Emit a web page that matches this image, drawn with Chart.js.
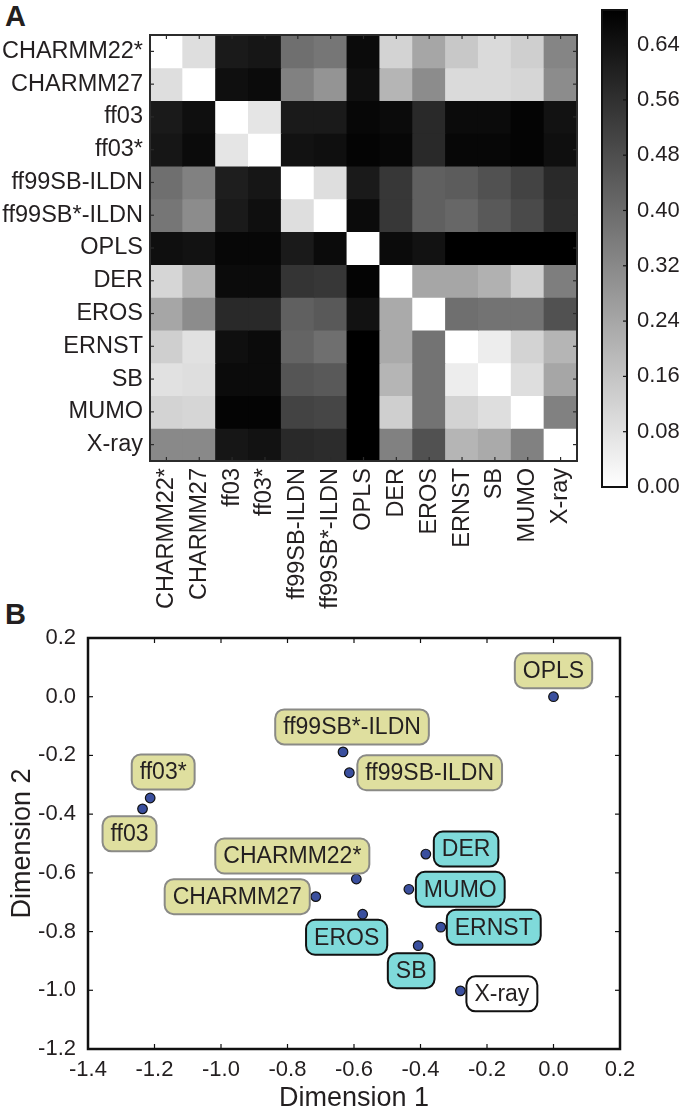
<!DOCTYPE html>
<html>
<head>
<meta charset="utf-8">
<script src="https://cdn.jsdelivr.net/npm/chart.js@4.4.1/dist/chart.umd.min.js"></script>
<style>
  body { margin: 0; background: #fff; width: 684px; height: 1113px; position: relative; overflow: hidden;
         font-family: "Liberation Sans", Arial, sans-serif; }
  canvas { position: absolute; }
  .panel { position: absolute; font-weight: bold; font-size: 29px; color: #231f20; line-height: 1; }
</style>
</head>
<body>
<div class="panel" style="left:5px;top:2px">A</div>
<div class="panel" style="left:5px;top:600px">B</div>
<canvas id="heat" width="595" height="620" style="left:0;top:0"></canvas>
<canvas id="cbar" width="89" height="500" style="left:595px;top:0"></canvas>
<canvas id="mds" width="684" height="523" style="left:0;top:590px"></canvas>
<script>
// --- panel A: pairwise distances between force fields / ensembles ---
var names = ["CHARMM22*", "CHARMM27", "ff03", "ff03*", "ff99SB-ILDN", "ff99SB*-ILDN",
             "OPLS", "DER", "EROS", "ERNST", "SB", "MUMO", "X-ray"];
var dist = [
  [0.00, 0.09, 0.62, 0.63, 0.39, 0.37, 0.66, 0.12, 0.24, 0.15, 0.10, 0.13, 0.33],
  [0.09, 0.00, 0.65, 0.66, 0.34, 0.29, 0.65, 0.20, 0.31, 0.10, 0.10, 0.11, 0.31],
  [0.62, 0.65, 0.00, 0.07, 0.62, 0.62, 0.67, 0.66, 0.58, 0.66, 0.66, 0.68, 0.64],
  [0.63, 0.66, 0.07, 0.00, 0.64, 0.65, 0.68, 0.67, 0.58, 0.67, 0.67, 0.68, 0.65],
  [0.39, 0.34, 0.61, 0.63, 0.00, 0.09, 0.62, 0.54, 0.43, 0.44, 0.47, 0.51, 0.58],
  [0.37, 0.31, 0.62, 0.65, 0.09, 0.00, 0.66, 0.54, 0.43, 0.41, 0.45, 0.49, 0.57],
  [0.65, 0.64, 0.67, 0.67, 0.62, 0.66, 0.00, 0.66, 0.64, 0.69, 0.69, 0.69, 0.69],
  [0.11, 0.20, 0.66, 0.66, 0.55, 0.54, 0.68, 0.00, 0.24, 0.24, 0.21, 0.13, 0.35],
  [0.24, 0.31, 0.58, 0.58, 0.43, 0.45, 0.64, 0.23, 0.00, 0.39, 0.38, 0.38, 0.47],
  [0.13, 0.08, 0.65, 0.66, 0.42, 0.39, 0.69, 0.23, 0.38, 0.00, 0.05, 0.12, 0.20],
  [0.08, 0.09, 0.66, 0.66, 0.46, 0.45, 0.69, 0.20, 0.38, 0.05, 0.00, 0.09, 0.24],
  [0.12, 0.11, 0.68, 0.68, 0.51, 0.50, 0.69, 0.13, 0.38, 0.12, 0.09, 0.00, 0.34],
  [0.32, 0.32, 0.63, 0.64, 0.58, 0.57, 0.69, 0.34, 0.47, 0.20, 0.23, 0.34, 0.00]
];
var vmax = 0.69;
var cbarTicks = [0.00, 0.08, 0.16, 0.24, 0.32, 0.40, 0.48, 0.56, 0.64];

// --- panel B: MDS embedding ---
var mdsNames = ["OPLS", "ff99SB*-ILDN", "ff99SB-ILDN", "ff03*", "ff03", "CHARMM22*", "CHARMM27",
                "DER", "MUMO", "EROS", "ERNST", "SB", "X-ray"];
var mdsX = [0.0, -0.633, -0.614, -1.213, -1.236, -0.593, -0.715, -0.384, -0.435, -0.574, -0.339, -0.407, -0.280];
var mdsY = [0.0, -0.188, -0.259, -0.345, -0.382, -0.621, -0.681, -0.536, -0.656, -0.741, -0.785, -0.848, -1.002];
var mdsGroup = ["ff", "ff", "ff", "ff", "ff", "ff", "ff", "exp", "exp", "exp", "exp", "exp", "xray"];
var xTicks = [-1.4, -1.2, -1.0, -0.8, -0.6, -0.4, -0.2, 0.0, 0.2];
var yTicks = [0.2, 0.0, -0.2, -0.4, -0.6, -0.8, -1.0, -1.2];

// label placement (pixels from the point), align = which box edge dx refers to
var labelPos = [
  {dx: 0, dy: -26, align: "center"}, {dx: 9, dy: -25, align: "center"}, {dx: 8, dy: 0, align: "left"},
  {dx: 13, dy: -26, align: "center"}, {dx: -13, dy: 25, align: "center"}, {dx: -64, dy: -23, align: "center"},
  {dx: -6, dy: 0, align: "right"}, {dx: 8, dy: -5, align: "left"}, {dx: 7, dy: 0, align: "left"},
  {dx: -16, dy: 23, align: "center"}, {dx: 6, dy: 0, align: "left"}, {dx: -7, dy: 25, align: "center"},
  {dx: 6, dy: 3, align: "left"}
];
var boxStyle = {
  ff:   {fill: "#dfdf9f", stroke: "#8a8a86"},
  exp:  {fill: "#7fdada", stroke: "#111111"},
  xray: {fill: "#ffffff", stroke: "#111111"}
};

Chart.defaults.font.family = '"Liberation Sans", Arial, sans-serif';
Chart.defaults.font.size = 22;
Chart.defaults.color = "#231f20";
Chart.defaults.animation = false;

function grayOf(v) {
  var g = Math.round(255 * (1 - Math.min(v, vmax) / vmax));
  return "rgb(" + g + "," + g + "," + g + ")";
}

// box round the plot area plus short inward ticks
var framePlugin = {
  id: "frame",
  afterDraw: function(chart, args, o) {
    if (!o || !o.color) return;
    var ctx = chart.ctx, a = chart.chartArea, L = o.tickLen;
    ctx.save();
    ctx.strokeStyle = o.color;
    ctx.lineWidth = o.tickWidth;
    (o.xSides || []).forEach(function(side) {
      var sx = chart.scales.x;
      sx.ticks.forEach(function(t, i) {
        var p = sx.getPixelForTick(i);
        ctx.beginPath();
        if (side === "top") { ctx.moveTo(p, a.top); ctx.lineTo(p, a.top + L); }
        else { ctx.moveTo(p, a.bottom); ctx.lineTo(p, a.bottom - L); }
        ctx.stroke();
      });
    });
    (o.ySides || []).forEach(function(side) {
      var sy = chart.scales.y;
      sy.ticks.forEach(function(t, i) {
        var p = sy.getPixelForTick(i);
        ctx.beginPath();
        if (side === "left") { ctx.moveTo(a.left, p); ctx.lineTo(a.left + L, p); }
        else { ctx.moveTo(a.right, p); ctx.lineTo(a.right - L, p); }
        ctx.stroke();
      });
    });
    ctx.lineWidth = o.width;
    ctx.strokeRect(a.left, a.top, a.right - a.left, a.bottom - a.top);
    ctx.restore();
  }
};

function noPad(s) { s.paddingTop = 0; s.paddingBottom = 0; s.paddingLeft = 0; s.paddingRight = 0; }

// heatmap: one stacked unit bar per cell
var heatSets = names.map(function(rowName, r) {
  return {
    label: rowName,
    data: names.map(function() { return 1; }),
    backgroundColor: dist[r].map(grayOf),
    borderWidth: 0,
    inflateAmount: 0.5,
    barPercentage: 1,
    categoryPercentage: 1,
    stack: "m"
  };
});

new Chart(document.getElementById("heat"), {
  type: "bar",
  data: { labels: names, datasets: heatSets },
  plugins: [framePlugin],
  options: {
    responsive: false,
    layout: { padding: { top: 35, right: 18, left: 0, bottom: 0 } },
    plugins: {
      legend: { display: false }, tooltip: { enabled: false },
      frame: { color: "#2b2b2b", width: 2, tickLen: 4, tickWidth: 1.2, xSides: ["top", "bottom"], ySides: ["left", "right"] }
    },
    scales: {
      x: {
        stacked: true,
        grid: { display: false, drawTicks: false },
        border: { display: false },
        ticks: { autoSkip: false, minRotation: 90, maxRotation: 90, padding: 7, font: { size: 23.5 } },
        afterFit: function(s) { s.height = 159; noPad(s); }
      },
      y: {
        stacked: true, min: 0, max: 13, reverse: true,
        grid: { display: false, drawTicks: false },
        border: { display: false },
        afterBuildTicks: function(s) { s.ticks = names.map(function(n, i) { return { value: i + 0.5 }; }); },
        ticks: { padding: 7, font: { size: 23.5 }, callback: function(v, i) { return names[i]; } },
        afterFit: function(s) { s.width = 150; noPad(s); }
      }
    }
  }
});

// colour bar
new Chart(document.getElementById("cbar"), {
  type: "bar",
  data: {
    labels: [""],
    datasets: [{
      data: [vmax],
      barPercentage: 1, categoryPercentage: 1, borderWidth: 0,
      backgroundColor: function(c) {
        var a = c.chart.chartArea;
        if (!a) return "#888";
        var g = c.chart.ctx.createLinearGradient(0, a.bottom, 0, a.top);
        g.addColorStop(0, "#ffffff");
        g.addColorStop(1, "#000000");
        return g;
      }
    }]
  },
  plugins: [framePlugin],
  options: {
    responsive: false,
    layout: { padding: { top: 10, left: 7, right: 0, bottom: 13 } },
    plugins: {
      legend: { display: false }, tooltip: { enabled: false },
      frame: { color: "#111", width: 2, tickLen: 4, tickWidth: 1.2, xSides: [], ySides: ["right"] }
    },
    scales: {
      x: { display: false },
      y: {
        position: "right", min: 0, max: vmax,
        grid: { display: false, drawTicks: false },
        border: { display: false },
        afterBuildTicks: function(s) { s.ticks = cbarTicks.map(function(v) { return { value: v }; }); },
        ticks: { padding: 10, callback: function(v) { return Number(v).toFixed(2); } },
        afterFit: function(s) { s.width = 57; noPad(s); }
      }
    }
  }
});

// MDS labels
var labelPlugin = {
  id: "mdsLabels",
  afterDatasetsDraw: function(chart) {
    var ctx = chart.ctx, pts = chart.getDatasetMeta(0).data;
    ctx.save();
    ctx.font = '23px "Liberation Sans", Arial, sans-serif';
    ctx.textBaseline = "middle";
    ctx.textAlign = "center";
    pts.forEach(function(el, i) {
      var pos = labelPos[i], st = boxStyle[mdsGroup[i]];
      var w = ctx.measureText(mdsNames[i]).width + 16, h = 35;
      var cx = el.x + pos.dx, cy = el.y + pos.dy;
      if (pos.align === "left") cx = el.x + pos.dx + w / 2;
      if (pos.align === "right") cx = el.x + pos.dx - w / 2;
      ctx.beginPath();
      ctx.roundRect(cx - w / 2, cy - h / 2, w, h, 9);
      ctx.fillStyle = st.fill;
      ctx.fill();
      ctx.lineWidth = 2;
      ctx.strokeStyle = st.stroke;
      ctx.stroke();
      ctx.fillStyle = "#231f20";
      ctx.fillText(mdsNames[i], cx, cy + 1);
    });
    ctx.restore();
  }
};

function fmt1(v) { return (Math.abs(v) < 1e-9 ? 0 : v).toFixed(1); }

new Chart(document.getElementById("mds"), {
  type: "scatter",
  data: {
    datasets: [{
      data: mdsX.map(function(x, i) { return { x: x, y: mdsY[i] }; }),
      pointRadius: 4.8,
      pointBackgroundColor: "#3a4f9e",
      pointBorderColor: "#111",
      pointBorderWidth: 1.2
    }]
  },
  plugins: [framePlugin, labelPlugin],
  options: {
    responsive: false,
    layout: { padding: { top: 48, right: 64, left: 0, bottom: 0 } },
    plugins: {
      legend: { display: false }, tooltip: { enabled: false },
      frame: { color: "#111", width: 2.5, tickLen: 5, tickWidth: 1.2, xSides: ["top", "bottom"], ySides: ["left", "right"] }
    },
    scales: {
      x: {
        min: -1.4, max: 0.2,
        grid: { display: false, drawTicks: false },
        border: { display: false },
        afterBuildTicks: function(s) { s.ticks = xTicks.map(function(v) { return { value: v }; }); },
        ticks: { padding: 8, callback: function(v) { return fmt1(v); } },
        title: { display: true, text: "Dimension 1", font: { size: 27, lineHeight: 1.1 }, padding: 0 },
        afterFit: function(s) { s.height = 64; }
      },
      y: {
        min: -1.2, max: 0.2,
        grid: { display: false, drawTicks: false },
        border: { display: false },
        afterBuildTicks: function(s) { s.ticks = yTicks.map(function(v) { return { value: v }; }); },
        ticks: { padding: 12, callback: function(v) { return fmt1(v); } },
        title: { display: true, text: "Dimension 2", font: { size: 27, lineHeight: 1.1 }, padding: { top: 8, bottom: 0 } },
        afterFit: function(s) { s.width = 88; }
      }
    }
  }
});
</script>
</body>
</html>
